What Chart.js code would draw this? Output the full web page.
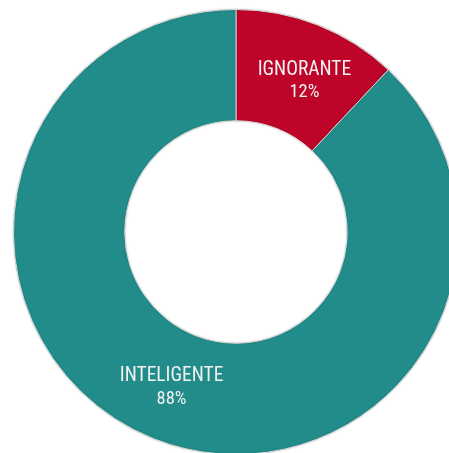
<!DOCTYPE html>
<html>
<head>
<meta charset="utf-8">
<script src="https://cdn.jsdelivr.net/npm/chart.js@4/dist/chart.umd.min.js"></script>
<style>
  html, body { margin: 0; padding: 0; background: #ffffff; overflow: hidden; }
  #wrap { position: absolute; left: 0; top: 0; width: 472px; height: 464px; }
</style>
</head>
<body>
<div id="wrap"><canvas id="chart" width="472" height="464"></canvas></div>
<script>
// Survey split
const categories = ['IGNORANTE', 'INTELIGENTE'];
const shares = [12, 88];
const sliceColors = ['#BE0428', '#218C8A'];

// Soft shadow along the ring edges
const ringShadow = {
  id: 'ringShadow',
  beforeDatasetsDraw(chart) {
    const ctx = chart.ctx;
    ctx.save();
    ctx.shadowColor = 'rgba(0,0,0,0.2)';
    ctx.shadowBlur = 2;
  },
  afterDatasetsDraw(chart) {
    chart.ctx.restore();
  }
};

// Writes the category name and its percentage inside each ring segment
const sliceLabels = {
  id: 'sliceLabels',
  afterDatasetsDraw(chart) {
    const ctx = chart.ctx;
    const meta = chart.getDatasetMeta(0);
    ctx.save();
    ctx.fillStyle = '#f2f2f2';
    ctx.textAlign = 'center';
    ctx.textBaseline = 'middle';
    meta.data.forEach((arc, i) => {
      const p = arc.getCenterPoint();
      // small nudge so the narrow segment's text sits toward its wider side
      const x = p.x + (i === 0 ? 7 : -3);
      const y = p.y + (i === 0 ? 4 : 0);
      ctx.font = '19.5px "Roboto Condensed", sans-serif';
      ctx.fillText(chart.data.labels[i], x, y - 11);
      ctx.font = '18.5px "Roboto Condensed", sans-serif';
      ctx.fillText(shares[i] + '%', x, y + 12);
    });
    ctx.restore();
  }
};

new Chart(document.getElementById('chart'), {
  type: 'doughnut',
  data: {
    labels: categories,
    datasets: [{
      data: shares,
      backgroundColor: sliceColors,
      borderColor: '#d9d9d9',
      borderWidth: 1
    }]
  },
  options: {
    responsive: false,
    animation: false,
    cutout: '50%',
    layout: { padding: 9 },
    plugins: {
      legend: { display: false },
      tooltip: { enabled: false }
    }
  },
  plugins: [ringShadow, sliceLabels]
});
</script>
</body>
</html>
